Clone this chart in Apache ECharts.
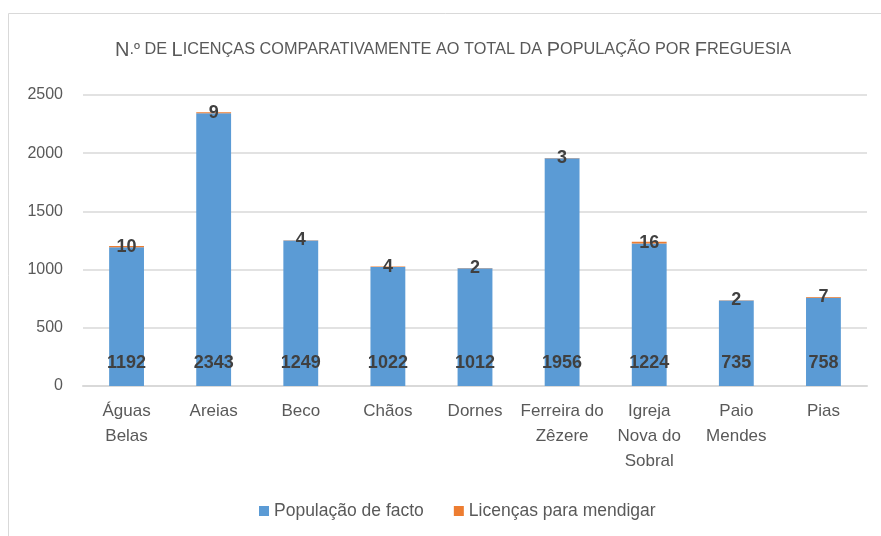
<!DOCTYPE html>
<html><head><meta charset="utf-8">
<script src="https://cdn.jsdelivr.net/npm/echarts@6/dist/echarts.min.js"></script>
<style>html,body{margin:0;padding:0;background:#fff}#c{width:881px;height:536px}</style>
</head><body><div id="c"></div>
<script>
const categories = ['Águas\nBelas','Areias','Beco','Chãos','Dornes','Ferreira do\nZêzere','Igreja\nNova do\nSobral','Paio\nMendes','Pias'];
const populacao = [1192, 2343, 1249, 1022, 1012, 1956, 1224, 735, 758];
const licencas = [10, 9, 4, 4, 2, 3, 16, 2, 7];
const yTicks = [0, 500, 1000, 1500, 2000, 2500];

const chart = echarts.init(document.getElementById('c'));
const sans = 'Liberation Sans, Arial, sans-serif';
chart.setOption({
  animation: false,
  graphic: [{type:'rect', shape:{x:8.5,y:13.5,width:900,height:560}, style:{fill:'none',stroke:'#d9d9d9',lineWidth:1}}],
  title: {
    left: 110, top: 35,
    text: '{b|N}{s|.º DE }{b|L}{s|ICENÇAS COMPARATIVAMENTE AO TOTAL DA }{b|P}{s|OPULAÇÃO POR }{b|F}{s|REGUESIA}',
    textStyle: {
      fontWeight: 'normal',
      rich: {
        b: {fontSize: 20, color: '#595959', fontFamily: sans, fontWeight: 'normal'},
        s: {fontSize: 16.3, color: '#595959', fontFamily: sans, fontWeight: 'normal'}
      }
    }
  },
  grid: {left: 83, right: 14, top: 95, bottom: 150, containLabel: false},
  legend: {
    bottom: 11, left: 254, itemWidth: 10, itemHeight: 10, itemGap: 30,
    icon: 'rect',
    textStyle: {fontSize: 17.5, color: '#595959', fontFamily: sans},
    data: ['População de facto', 'Licenças para mendigar']
  },
  xAxis: {
    type: 'category', data: categories,
    axisLine: {lineStyle: {color: '#d9d9d9', width: 2}},
    axisTick: {show: false},
    axisLabel: {fontSize: 17, color: '#595959', lineHeight: 25, margin: 13, interval: 0, fontFamily: sans}
  },
  yAxis: {
    type: 'value', min: 0, max: 2500, interval: 500,
    axisLine: {show: false}, axisTick: {show: false},
    splitLine: {lineStyle: {color: '#d9d9d9', width: 1.5}},
    axisLabel: {fontSize: 16, color: '#595959', margin: 20, fontFamily: sans,
      formatter: v => yTicks.includes(v) ? String(v) : ''}
  },
  series: [
    {
      name: 'População de facto', type: 'bar', stack: 't', data: populacao,
      barWidth: '40%',
      itemStyle: {color: '#5b9bd5'},
      label: {show: true, position: 'insideBottom', distance: 14,
        fontSize: 18, fontWeight: 'bold', color: '#404040', fontFamily: sans}
    },
    {
      name: 'Licenças para mendigar', type: 'bar', stack: 't', data: licencas,
      itemStyle: {color: '#ed7d31'},
      label: {show: true, position: 'inside',
        fontSize: 18, fontWeight: 'bold', color: '#404040', fontFamily: sans}
    }
  ]
});
</script></body></html>
